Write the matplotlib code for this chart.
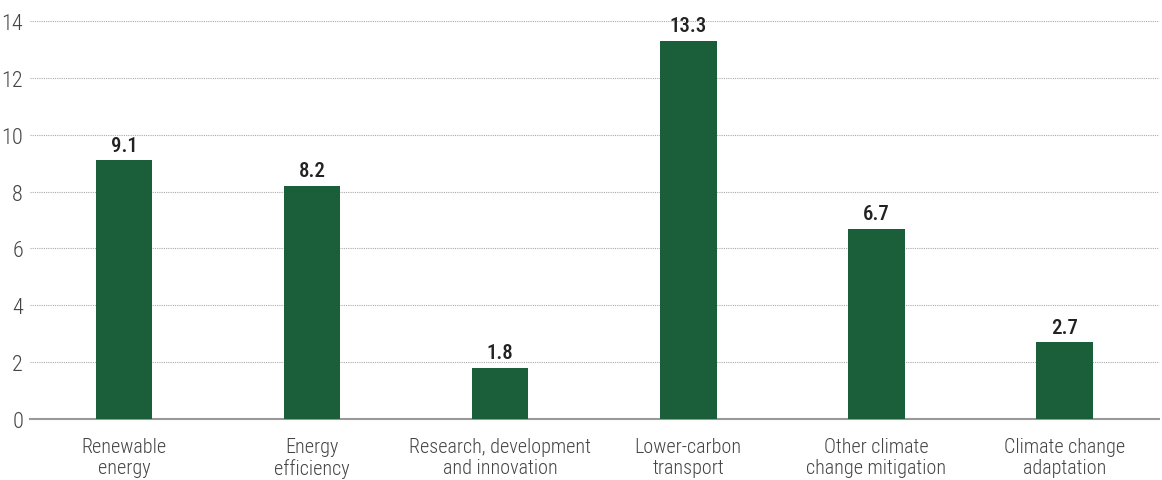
import matplotlib
matplotlib.use("Agg")
import matplotlib.pyplot as plt
from matplotlib import font_manager

categories = ["Renewable\nenergy", "Energy\nefficiency", "Research, development\nand innovation",
              "Lower-carbon\ntransport", "Other climate\nchange mitigation", "Climate change\nadaptation"]
values = [9.1, 8.2, 1.8, 13.3, 6.7, 2.7]
yticks = [0, 2, 4, 6, 8, 10, 12, 14]

names = {f.name for f in font_manager.fontManager.ttflist}
stretch = "normal"
fam = None
for cand in ["Roboto Condensed", "Liberation Sans Narrow", "Open Sans Condensed", "Noto Sans Condensed"]:
    if cand in names:
        fam = cand
        break
if fam is None:
    fam = "DejaVu Sans"
    conds = [f for f in font_manager.fontManager.ttflist
             if f.name == "DejaVu Sans" and "Condensed" in f.fname]
    if conds:
        stretch = "condensed"
plt.rcParams['font.family'] = [fam, 'DejaVu Sans']
plt.rcParams['font.stretch'] = stretch

fig = plt.figure(figsize=(11.62, 4.81), dpi=100)
ax = fig.add_axes([30/1162, 61/481, (1158.5-30)/1162, (420-22)/481])
x = range(len(categories))
ax.bar(x, values, width=0.30, color="#1b5e3a", zorder=3)
for xi, v in zip(x, values):
    ax.text(xi, v + 0.2, f"{v}", ha="center", va="bottom", fontsize=15, color="#222222",
            fontweight="medium", fontstretch=stretch)
ax.set_xlim(-0.5, 5.5)
ax.set_ylim(0, 14)
ax.set_yticks(yticks)
ax.set_yticklabels([str(t) for t in yticks], fontsize=16, color="#444444",
                   fontweight="light", fontstretch=stretch)
ax.set_xticks(list(x))
ax.set_xticklabels(categories, fontsize=14.5, color="#444444", linespacing=1.1,
                   fontweight="light", fontstretch=stretch)
ax.tick_params(axis="both", length=0)
ax.tick_params(axis="y", pad=5)
ax.tick_params(axis="x", pad=13)
for t in yticks[1:]:
    ax.axhline(t, color="#aaaaaa", linestyle=(0, (1, 1)), linewidth=0.8, zorder=1)
for s in ["top", "right", "left"]:
    ax.spines[s].set_visible(False)
ax.spines["bottom"].set_color("#999999")
ax.spines["bottom"].set_linewidth(1.5)
fig.savefig("out.png", dpi=100)
